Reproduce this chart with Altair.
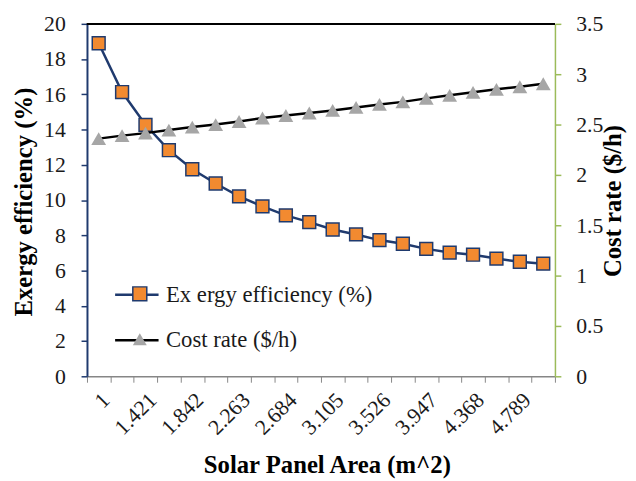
import altair as alt
import pandas as pd

# ---- data ----
areas = ["1", "1.211", "1.421", "1.632", "1.842", "2.053", "2.263", "2.474", "2.684", "2.895",
         "3.105", "3.316", "3.526", "3.737", "3.947", "4.158", "4.368", "4.579", "4.789", "5"]
shown_labels = ["1", "1.421", "1.842", "2.263", "2.684", "3.105", "3.526", "3.947", "4.368", "4.789"]
exergy = [18.9, 16.13, 14.27, 12.83, 11.75, 10.94, 10.21, 9.64, 9.13, 8.75,
          8.33, 8.05, 7.73, 7.52, 7.23, 7.02, 6.9, 6.68, 6.5, 6.39]
cost = [2.36, 2.39, 2.415, 2.445, 2.475, 2.50, 2.53, 2.565, 2.59, 2.615,
        2.64, 2.67, 2.70, 2.725, 2.76, 2.79, 2.82, 2.85, 2.875, 2.905]
left_ticks = [0, 2, 4, 6, 8, 10, 12, 14, 16, 18, 20]
right_ticks = [0, 0.5, 1, 1.5, 2, 2.5, 3, 3.5]
E = "Ex ergy efficiency (%)"
C = "Cost rate ($/h)"

df = pd.DataFrame({"area": areas, "exergy": exergy, "cost": cost})

W, H = 474, 357
NAVY = "#1F3A6E"
ORANGE = "#F28A30"
GRAY = "#A6A6A6"
GREEN = "#9BBB59"
FONT = "Times New Roman"

label_list = "[" + ",".join("'" + s + "'" for s in shown_labels) + "]"
x_enc = alt.X(
    "area:N", sort=areas, bandPosition=0.5,
    scale=alt.Scale(type="band", paddingInner=0, paddingOuter=0),
    axis=alt.Axis(
        title="Solar Panel Area (m^2)", labelAngle=-45, tickBand="extent",
        labelExpr="indexof(" + label_list + ", datum.label) >= 0 ? datum.label : ''",
        tickSize=6, tickColor="#868686", domainColor="#868686", domainWidth=1.5,
        labelPadding=7, labelFontSize=22, titleFontSize=25, titleFontWeight="bold",
        titleX=243, titleY=89, titleBaseline="middle", titleAlign="center",
    ),
)

line_legend = alt.Legend(
    title=None, orient="none", legendX=27, legendY=251, symbolSize=1936,
    symbolStrokeWidth=2.5, labelFontSize=23, labelOffset=6, rowPadding=10,
    padding=0, labelFont=FONT, labelColor="#1a1a1a", labelLimit=400,
)
pt_legend = alt.Legend(
    title=None, orient="none", legendX=42, legendY=262, symbolSize=200,
    labelFontSize=23, labelExpr="' '", rowPadding=22, padding=0, zindex=2,
    labelFont=FONT, labelLimit=400,
)
color_scale = alt.Scale(domain=[E, C], range=[NAVY, "black"])
pkeys = ["pe", "pc"]
fill_scale = alt.Scale(domain=pkeys, range=[ORANGE, GRAY])
shape_scale = alt.Scale(domain=pkeys, range=["square", "triangle-up"])
stroke_scale = alt.Scale(domain=pkeys, range=[NAVY, "transparent"])

y_left = alt.Y(
    "exergy:Q", scale=alt.Scale(domain=[0, 20], nice=False),
    axis=alt.Axis(
        title="Exergy efficiency (%)", values=left_ticks, grid=False, orient="left",
        domainColor=NAVY, domainWidth=2, tickColor=NAVY, tickWidth=1.5, tickSize=6,
        labelPadding=16, labelFontSize=22, titleFontSize=25, titleFontWeight="bold",
        titleX=-64, titleY=180, titleAngle=270, titleAlign="center", titleBaseline="middle",
    ),
)
y_right = alt.Y(
    "cost:Q", scale=alt.Scale(domain=[0, 3.5], nice=False),
    axis=alt.Axis(
        title="Cost rate ($/h)", values=right_ticks, format="~g", grid=False, orient="right",
        domainColor=GREEN, domainWidth=1.5, tickColor=GREEN, tickWidth=1.5, tickSize=6,
        labelPadding=15, labelFontSize=22, titleFontSize=25, titleFontWeight="bold",
        titleX=58, titleY=179, titleAngle=270, titleAlign="center", titleBaseline="middle",
    ),
)

base_e = alt.Chart(df).transform_calculate(series="'" + E + "'", pk="'pe'")
base_c = alt.Chart(df).transform_calculate(series="'" + C + "'", pk="'pc'")

color_enc = alt.Color("series:N", scale=color_scale, legend=line_legend)
fill_enc = alt.Fill("pk:N", scale=fill_scale, legend=pt_legend)
shape_enc = alt.Shape("pk:N", scale=shape_scale, legend=pt_legend)
stroke_enc = alt.Stroke("pk:N", scale=stroke_scale, legend=pt_legend)

line_e = base_e.mark_line(strokeWidth=2.5).encode(x=x_enc, y=y_left, color=color_enc)
pts_e = base_e.mark_point(filled=True, size=169, strokeWidth=1.5, opacity=1).encode(
    x=x_enc, y=y_left, fill=fill_enc, shape=shape_enc, stroke=stroke_enc)
line_c = base_c.mark_line(strokeWidth=2.5).encode(x=x_enc, y=y_right, color=color_enc)
pts_c = base_c.mark_point(filled=True, size=225, strokeWidth=1.5, opacity=1).encode(
    x=x_enc, y=y_right, fill=fill_enc, shape=shape_enc, stroke=stroke_enc)

top_rule = alt.Chart(df).mark_rule(color="black", strokeWidth=1).encode(
    x=alt.value(0), x2=alt.value(W), y=alt.value(0))

left = alt.layer(line_e, pts_e)
right = alt.layer(line_c, pts_c)

chart = alt.layer(top_rule, left, right).resolve_scale(y="independent").properties(
    width=W, height=H,
    autosize=alt.AutoSizeParams(type="none"),
    padding={"left": 80, "top": 13, "right": 74, "bottom": 103},
).configure(font=FONT).configure_view(stroke=None).configure_axis(
    labelFont=FONT, titleFont=FONT, labelColor="#1a1a1a", titleColor="black",
).configure_legend(labelFont=FONT)

chart.save("out.html", embed_options={"renderer": "svg", "actions": False})
